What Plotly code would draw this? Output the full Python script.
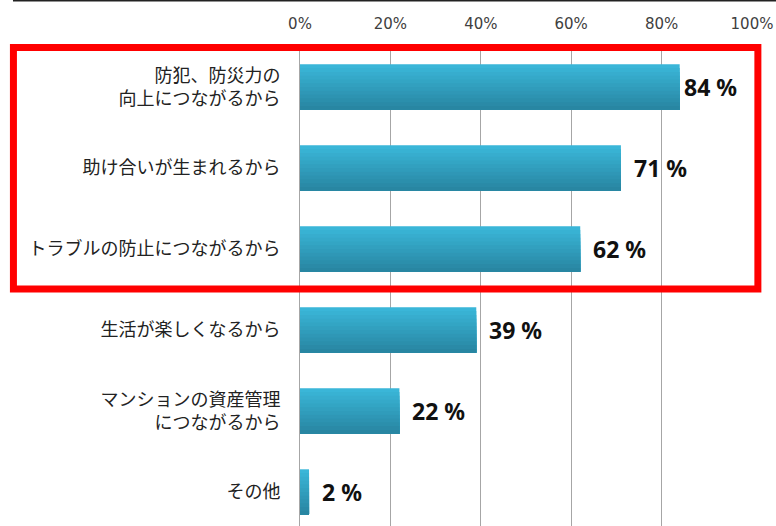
import plotly.graph_objects as go

categories = [
    "防犯、防災力の<br>向上につながるから",
    "助け合いが生まれるから",
    "トラブルの防止につながるから",
    "生活が楽しくなるから",
    "マンションの資産管理<br>につながるから",
    "その他",
]
values = [0.84, 0.71, 0.62, 0.39, 0.22, 0.02]
value_labels = ["84 %", "71 %", "62 %", "39 %", "22 %", "2 %"]
tick_vals = [0, 0.2, 0.4, 0.6, 0.8, 1.0]
tick_text = ["0%", "20%", "40%", "60%", "80%", "100%"]

bar_w = 0.56
top_rgb = (58, 182, 216)
bot_rgb = (40, 134, 162)
n_bands = 12
band_w = bar_w / n_bands

fig = go.Figure()
for i in range(n_bands):
    t = i / (n_bands - 1)
    c = tuple(int(round(top_rgb[k] + (bot_rgb[k] - top_rgb[k]) * t)) for k in range(3))
    fig.add_trace(go.Bar(
        x=values, y=categories, orientation="h",
        width=bar_w - i * band_w, offset=-bar_w / 2 + i * band_w,
        marker=dict(color="rgb(%d,%d,%d)" % c, line=dict(width=0)),
        showlegend=False, hoverinfo="skip",
    ))

for cat, v, lab in zip(categories, values, value_labels):
    fig.add_annotation(x=v, y=cat, text="<b>%s</b>" % lab, showarrow=False,
                       xanchor="left", xshift=11 if v < 0.8 else 2,
                       font=dict(family="Noto Sans", size=23, color="#111111"))

# highlight box
fig.add_shape(type="rect", xref="paper", yref="paper", x0=-0.634, x1=1.013,
              y0=0.498, y1=1.005, line=dict(color="#ff0000", width=7), layer="above")
# top border line
fig.add_shape(type="line", xref="paper", yref="paper", x0=-0.635, x1=1.1,
              y0=1.104, y1=1.104, line=dict(color="#222222", width=2))

fig.update_layout(
    width=776, height=526,
    margin=dict(l=300, r=24, t=50, b=0),
    paper_bgcolor="white", plot_bgcolor="white",
    barmode="overlay",
    xaxis=dict(range=[0, 1], side="top", tickvals=tick_vals, ticktext=tick_text,
               showgrid=True, gridcolor="#a6a6a6", gridwidth=1, zeroline=False,
               ticks="", ticklabelstandoff=17,
               tickfont=dict(family="DejaVu Sans", size=15, color="#404040")),
    yaxis=dict(categoryorder="array", categoryarray=categories,
               range=[5.42, -0.457], showline=True, linecolor="#a6a6a6", linewidth=1,
               ticks="", ticklabelstandoff=15, showgrid=False,
               tickfont=dict(family="Noto Sans CJK JP", size=18, color="#222222")),
)

fig.write_html("out.html")
